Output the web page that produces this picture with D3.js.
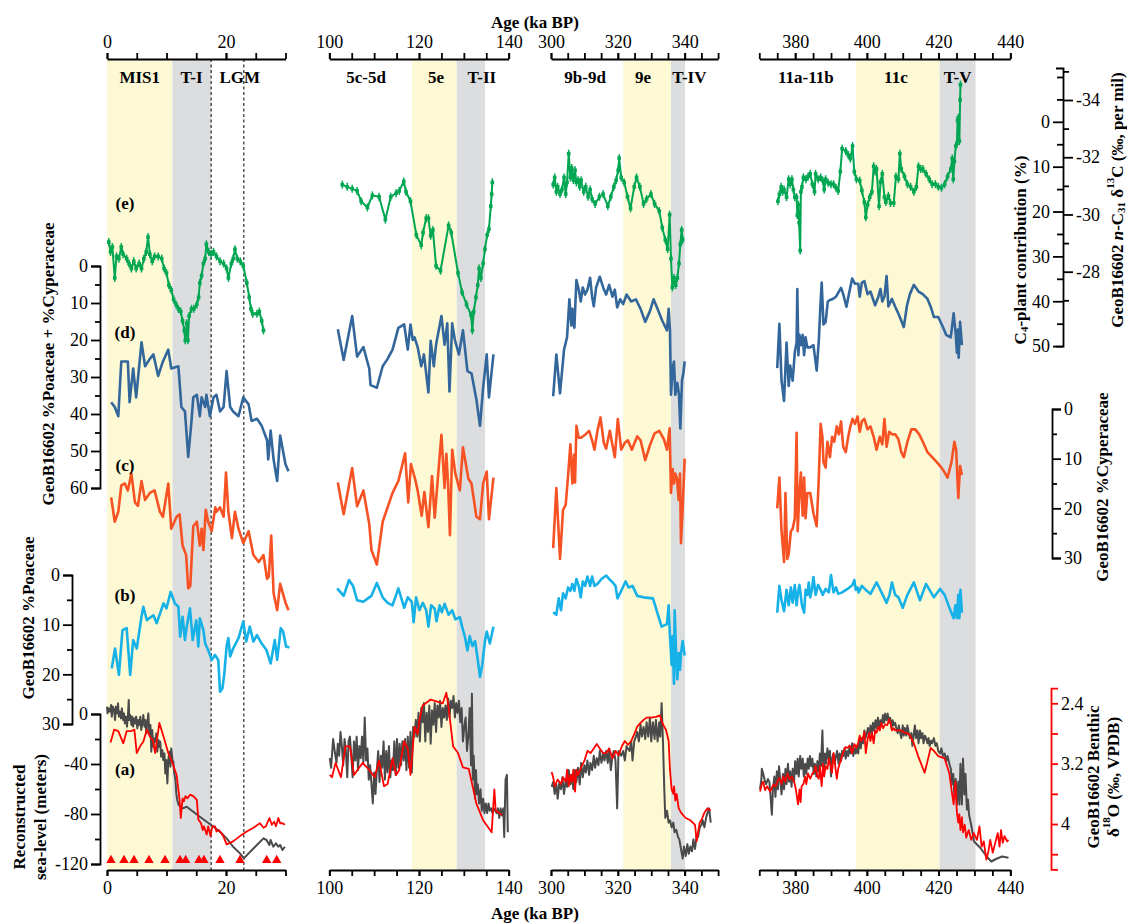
<!DOCTYPE html>
<html>
<head>
<meta charset="utf-8">
<script src="https://cdn.jsdelivr.net/npm/d3@7"></script>
<style>
  body { margin: 0; background: #fff; }
  svg text { font-family: "Liberation Serif", "Times New Roman", serif; fill: #000; }
</style>
</head>
<body>
<svg id="chart" width="1127" height="924"></svg>
<script>
// ---- data (age in ka BP, value in axis units) ----

// x panels and their tick labels
const panelDomains = [[0, 30], [100, 140], [300, 350], [370, 440]];
const panelLabels = [[0, 20], [100, 120, 140], [300, 320, 340], [380, 400, 420, 440]];

// shaded intervals
const yellowBands = [[0, 11], [118.4, 128.4], [321.6, 335.9], [397, 420.3]];
const greyBands = [[11, 17.5], [128.4, 134.7], [335.9, 340.1], [420.3, 430.3]];
const dashedAges = [17.5, 23];
const bandNames = ["MIS1", "T-I", "LGM", "5c-5d", "5e", "T-II", "9b-9d", "9e", "T-IV", "11a-11b", "11c", "T-V"];
const bandNameAges = [5.5, 14.2, 22.3, 108.2, 123.8, 134.0, 310.2, 327.5, 341.4, 383.0, 408.1, 425.3];

// (e) C4-plant contribution (%)
const c4P1 = [[0.3,26.8],[0.6,29.0],[0.9,27.9],[1.3,34.8],[1.6,30.0],[2.0,30.5],[2.4,27.9],[2.7,29.5],[3.3,30.5],[3.7,31.6],[4.1,32.7],[4.5,31.1],[4.9,32.7],[5.4,31.6],[5.8,32.7],[6.2,30.5],[6.6,29.0],[6.9,25.7],[7.2,29.5],[7.6,31.1],[8.0,30.0],[8.6,30.0],[9.2,30.5],[9.6,32.7],[10.0,33.7],[10.4,36.4],[10.8,37.5],[11.2,39.6],[11.6,40.7],[12.0,41.7],[12.4,42.3],[12.7,44.4],[13.0,46.5],[13.15,48.7],[13.4,44.9],[13.6,48.7],[13.8,43.3],[14.2,41.7],[14.6,41.7],[15.1,40.7],[15.4,39.1],[15.6,35.9],[15.9,34.3],[16.2,31.6],[16.5,30.5],[16.7,27.3],[17.1,29.0],[17.5,29.5],[17.9,29.0],[18.4,30.0],[19.0,31.1],[19.6,31.6],[20.1,32.7],[20.4,34.8],[20.9,31.6],[21.2,30.5],[21.5,28.4],[21.9,30.5],[22.4,31.1],[22.9,32.1],[23.5,35.9],[23.9,39.1],[24.2,41.7],[24.5,42.8],[25.2,42.8],[25.6,42.3],[26.0,44.4],[26.3,46.5]];
const c4P2 = [[102.9,14.0],[104.0,14.5],[105.1,14.9],[106.2,15.4],[107.1,17.7],[108.5,19.1],[109.6,16.4],[111.1,16.7],[112.5,21.8],[113.7,16.7],[114.9,15.9],[115.6,15.4],[116.6,13.3],[117.1,15.6],[118.1,17.7],[119.4,25.2],[120.5,27.5],[120.9,24.7],[121.6,21.5],[122.1,21.5],[122.6,25.4],[123.1,24.1],[123.8,32.1],[124.8,33.2],[126.6,23.1],[127.2,24.7],[128.7,33.7],[129.6,38.0],[130.6,40.7],[131.6,43.1],[131.9,46.5],[132.2,42.3],[132.7,39.1],[133.1,36.4],[133.4,32.7],[133.8,34.8],[134.3,31.6],[134.7,28.4],[135.2,25.2],[135.6,23.9],[136.0,18.8],[136.2,16.1],[136.35,13.5]];
const c4P3 = [[300.65,14.0],[301.1,12.4],[301.6,15.6],[302.0,14.5],[302.7,16.1],[303.3,15.1],[303.9,12.4],[304.4,16.1],[304.8,13.5],[305.3,7.1],[305.8,12.4],[306.2,10.3],[306.7,13.0],[307.2,10.8],[307.6,13.5],[308.1,13.0],[308.6,14.5],[309.0,13.0],[309.8,15.6],[310.4,14.5],[311.1,16.7],[311.7,15.1],[312.3,17.2],[313.2,18.3],[314.5,16.7],[315.6,16.1],[317.0,18.8],[317.9,16.7],[318.8,14.5],[319.5,13.0],[320.1,10.8],[320.4,8.1],[321.0,12.4],[321.9,13.5],[322.9,16.7],[323.8,19.3],[324.9,14.5],[325.6,12.4],[326.6,14.5],[327.7,18.3],[328.6,17.2],[329.9,16.1],[331.0,18.3],[332.4,19.9],[333.3,23.6],[334.2,26.3],[334.9,28.4],[335.5,20.7],[335.9,30.5],[336.3,36.9],[336.8,34.8],[337.3,36.4],[337.8,34.8],[338.3,31.6],[338.7,27.3],[339.1,24.1],[339.4,26.3]];
const c4P4 = [[375.2,17.7],[375.6,16.2],[376.1,14.5],[376.5,15.6],[376.9,15.1],[377.6,16.8],[378.2,12.8],[378.6,13.9],[379.1,12.8],[379.5,15.1],[379.9,16.8],[380.4,16.8],[380.6,20.8],[380.9,18.5],[381.1,22.5],[381.4,28.7],[381.6,15.6],[381.9,14.5],[382.3,12.4],[383.0,12.8],[383.6,12.2],[384.2,11.6],[384.8,13.9],[385.4,15.6],[385.7,11.6],[386.4,12.8],[387.1,12.4],[387.7,13.1],[388.1,15.1],[388.5,12.8],[389.2,13.6],[390.0,13.9],[390.7,13.9],[391.4,14.7],[392.0,15.4],[392.6,11.1],[393.1,6.0],[394.1,6.5],[394.8,7.4],[395.4,8.2],[396.0,5.4],[396.5,11.1],[397.1,12.8],[398.0,13.1],[398.6,15.3],[399.3,17.9],[399.7,21.3],[400.2,18.5],[400.8,16.8],[401.4,15.6],[401.9,9.9],[402.3,11.1],[402.7,10.5],[403.4,18.8],[403.8,13.4],[404.3,11.6],[404.9,16.8],[405.3,17.9],[406.0,16.5],[406.6,18.1],[407.5,18.1],[408.1,12.2],[408.8,12.8],[409.2,7.1],[409.6,10.5],[410.5,12.2],[411.3,13.9],[412.2,14.5],[413.1,15.6],[413.8,14.5],[414.4,9.9],[415.0,10.5],[415.6,10.5],[416.5,11.6],[417.4,12.8],[418.2,13.9],[419.1,13.9],[419.9,14.5],[420.8,14.7],[421.7,13.9],[422.5,12.2],[423.4,10.5],[423.8,8.2],[424.1,12.8],[424.4,8.8],[424.8,5.4],[425.1,4.8],[425.3,-0.3],[425.5,-0.9],[425.8,4.3],[426.0,-4.9],[426.1,-8.3]];

// (d) %Poaceae + %Cyperaceae
const pcP1 = [[0.7,36.8],[1.3,38.1],[1.9,40.6],[2.4,25.8],[3.0,25.8],[3.5,25.8],[3.8,36.8],[4.4,27.7],[4.9,35.5],[5.8,20.6],[6.4,27.1],[7.2,25.1],[7.8,23.9],[8.6,29.7],[9.4,25.8],[10.3,22.6],[10.8,27.7],[12.0,27.1],[12.5,38.1],[13.1,39.3],[13.65,51.6],[14.2,41.9],[14.5,35.5],[15.1,34.8],[15.6,40.6],[15.9,35.5],[16.5,38.1],[16.7,34.8],[17.3,40.6],[17.9,35.5],[18.4,34.8],[19.0,39.3],[19.6,38.1],[20.1,28.4],[20.7,38.1],[21.2,39.3],[22.1,40.6],[22.9,35.5],[23.8,37.4],[24.3,41.9],[25.2,41.3],[26.0,43.2],[26.9,47.1],[27.1,52.3],[27.5,44.5],[28.0,52.3],[28.6,58.1],[29.1,45.8],[30.0,53.6],[30.5,55.5]];
const pcP2 = [[101.9,17.1],[103.2,25.4],[105.1,13.5],[106.2,24.5],[107.6,21.9],[108.9,27.7],[109.2,32.2],[110.6,32.9],[111.9,27.1],[113.0,25.1],[114.1,22.6],[115.4,16.7],[116.7,15.8],[117.5,22.6],[118.1,15.8],[118.6,20.0],[119.0,19.3],[119.7,21.9],[120.5,27.1],[121.1,23.9],[122.1,34.2],[122.6,20.2],[123.3,27.1],[123.8,21.3],[125.0,13.5],[125.7,21.3],[126.3,15.5],[126.8,33.9],[127.4,15.5],[128.0,20.0],[128.9,23.9],[129.8,17.4],[130.8,28.4],[131.7,29.0],[132.8,36.1],[133.6,43.2],[134.3,32.9],[135.1,23.9],[135.6,35.5],[136.6,23.9]];
const pcP3 = [[300.65,35.2],[301.6,23.9],[302.7,34.4],[303.9,22.6],[304.8,19.3],[305.5,9.0],[306.1,16.1],[306.4,11.6],[307.0,16.7],[307.6,3.8],[308.3,6.4],[308.9,9.6],[309.5,5.8],[310.2,7.7],[310.9,6.4],[311.7,3.2],[312.3,8.3],[312.8,10.9],[313.5,5.8],[314.6,2.9],[315.6,5.8],[316.5,7.7],[317.4,5.1],[318.4,8.3],[319.1,6.4],[319.8,11.2],[320.7,9.0],[321.6,10.3],[322.6,7.7],[324.0,9.6],[325.4,9.0],[326.8,11.6],[328.2,15.1],[329.6,12.2],[330.7,9.0],[331.9,11.6],[333.3,14.8],[334.7,17.4],[335.2,11.6],[335.6,17.4],[335.9,34.8],[336.4,27.7],[336.8,25.8],[337.2,34.8],[337.8,31.6],[338.3,34.8],[338.7,43.9],[339.2,30.9],[339.6,29.0],[340.0,25.8]];
const pcP4 = [[375.0,27.6],[375.6,15.6],[376.2,31.0],[376.9,36.5],[377.6,20.7],[378.2,32.4],[378.6,26.9],[379.3,31.0],[379.9,23.4],[380.4,20.7],[380.6,6.2],[380.9,24.1],[381.2,18.6],[381.6,21.4],[382.1,18.6],[382.5,24.1],[382.9,19.3],[383.4,22.0],[384.2,22.0],[385.1,21.4],[386.0,28.3],[386.6,20.0],[387.1,9.6],[387.4,4.5],[387.9,15.8],[388.5,15.1],[389.1,9.6],[389.7,9.2],[390.5,8.9],[391.4,8.3],[392.2,6.9],[392.8,5.9],[393.4,7.6],[394.3,11.0],[395.0,7.6],[395.9,3.4],[396.7,4.8],[397.6,4.8],[398.0,8.3],[398.6,4.5],[399.3,4.1],[400.2,7.6],[401.0,6.9],[402.3,10.6],[403.2,8.3],[403.8,6.2],[404.3,9.6],[404.9,8.3],[405.5,2.7],[406.0,10.9],[407.0,8.9],[407.9,11.0],[408.9,13.1],[410.3,16.5],[411.2,10.6],[412.0,7.6],[413.1,5.1],[414.4,6.9],[415.6,7.6],[416.9,8.9],[417.8,11.0],[418.7,13.8],[419.9,13.8],[421.2,16.5],[422.1,18.6],[423.4,19.3],[424.2,12.8],[424.8,18.6],[425.1,23.4],[425.4,17.2],[425.6,24.8],[426.0,15.1],[426.5,21.4]];

// (c) %Cyperaceae
const cyP1 = [[0.7,17.8],[1.3,22.7],[1.9,20.7],[2.4,15.4],[3.0,15.0],[3.5,16.4],[4.1,13.0],[4.7,18.8],[5.2,19.5],[5.8,14.5],[6.4,18.3],[7.2,16.9],[8.0,16.4],[8.9,20.7],[9.4,21.7],[10.3,15.0],[10.8,24.1],[11.7,21.7],[12.2,21.2],[12.7,27.5],[13.3,29.4],[13.65,36.1],[14.0,35.6],[14.5,23.6],[15.1,22.7],[15.6,27.5],[15.9,24.1],[16.2,28.4],[16.6,20.3],[17.0,22.7],[17.6,24.6],[18.2,19.8],[18.4,20.7],[19.0,19.8],[19.6,21.7],[20.0,12.8],[20.4,20.7],[21.0,26.0],[21.5,20.7],[22.1,24.1],[22.9,27.0],[23.8,24.6],[24.6,29.4],[25.5,30.8],[26.3,29.4],[26.9,34.2],[27.2,33.7],[27.6,25.5],[28.0,37.1],[28.6,40.5],[29.1,35.2],[30.0,39.0],[30.5,40.5]];
const cyP2 = [[101.9,14.8],[103.2,21.2],[105.1,11.9],[106.2,19.6],[107.6,16.4],[108.9,23.1],[109.4,28.4],[110.6,31.3],[111.9,22.7],[113.0,19.8],[114.1,16.9],[115.4,14.5],[116.9,8.9],[117.6,18.8],[118.2,11.1],[119.1,14.0],[119.7,16.4],[120.6,21.5],[121.2,16.7],[122.1,23.8],[122.9,13.5],[123.5,21.9],[124.2,14.0],[125.0,5.2],[125.7,15.9],[126.1,9.0],[126.5,15.4],[126.9,25.4],[127.4,8.2],[128.1,13.0],[129.1,16.4],[129.8,7.7],[131.0,14.0],[131.7,15.0],[132.8,21.7],[133.6,22.2],[134.3,15.0],[135.1,12.6],[135.6,22.2],[136.6,13.8]];
const cyP3 = [[300.65,28.0],[301.6,15.9],[302.7,30.2],[303.6,20.3],[304.4,19.3],[305.1,13.5],[305.8,7.1],[306.4,15.0],[306.9,9.2],[307.2,14.8],[307.6,3.4],[308.3,5.8],[309.0,5.8],[310.0,5.3],[311.4,4.4],[312.3,6.3],[313.0,8.2],[313.9,4.4],[314.8,1.7],[315.8,6.8],[316.5,8.0],[317.6,4.4],[318.4,7.3],[319.1,9.7],[320.0,2.0],[321.0,8.2],[322.1,6.8],[323.0,6.3],[324.2,8.2],[325.8,5.5],[326.8,6.3],[328.2,10.3],[329.6,7.3],[331.0,4.9],[332.4,4.4],[333.8,6.1],[334.7,8.2],[335.5,3.9],[335.9,16.9],[336.4,12.1],[336.8,15.0],[337.2,13.0],[337.7,14.0],[338.2,18.3],[338.6,13.0],[338.9,27.0],[339.4,19.8],[340.0,10.0]];
const cyP4 = [[375.0,20.0],[375.6,13.8],[376.2,24.6],[376.9,30.8],[377.3,16.9],[377.8,30.2],[378.2,29.2],[378.8,24.6],[379.3,24.1],[379.9,22.0],[380.4,4.8],[380.7,24.6],[381.2,16.9],[381.6,12.8],[382.1,21.5],[382.5,13.8],[382.9,22.0],[383.4,16.9],[384.2,16.9],[385.1,21.0],[386.0,23.6],[386.6,13.8],[387.1,3.0],[387.6,5.6],[387.9,10.7],[388.5,11.8],[389.0,6.6],[389.7,9.7],[390.3,5.6],[390.9,6.6],[391.6,3.5],[392.2,5.1],[392.8,2.5],[393.4,7.6],[394.1,8.7],[394.8,5.6],[395.4,3.5],[396.0,2.0],[396.7,3.0],[397.4,1.5],[398.0,4.6],[398.6,2.5],[399.3,2.0],[400.2,4.1],[401.0,3.5],[401.9,5.6],[402.7,8.2],[403.6,5.6],[404.3,7.1],[404.9,2.0],[405.5,7.6],[406.2,4.6],[407.0,5.1],[407.9,5.1],[408.8,6.1],[409.6,8.7],[410.3,9.7],[411.3,6.6],[412.4,4.1],[413.5,4.1],[414.6,5.1],[415.6,6.6],[416.9,8.7],[418.2,9.7],[419.5,10.7],[420.8,11.8],[421.7,12.8],[422.5,13.8],[423.6,10.7],[424.4,6.6],[424.9,8.2],[425.5,17.9],[426.0,11.5],[426.5,13.3]];

// (b) %Poaceae
const poP1 = [[0.8,18.8],[1.35,14.8],[2.0,20.1],[2.6,11.1],[3.3,10.7],[3.9,20.1],[4.4,13.1],[5.0,14.8],[5.8,8.4],[6.1,6.4],[6.7,9.1],[7.1,8.7],[7.8,8.1],[8.35,9.7],[9.5,5.7],[10.0,6.7],[10.7,3.4],[11.4,5.7],[12.0,6.4],[12.3,12.4],[12.7,8.4],[13.1,13.1],[13.4,10.4],[13.95,6.7],[14.4,13.1],[15.0,9.1],[15.35,14.4],[15.6,8.7],[16.2,11.1],[16.5,13.8],[17.0,15.1],[17.6,17.1],[18.15,16.1],[18.7,17.1],[19.0,23.5],[19.4,22.8],[19.7,20.1],[20.1,14.4],[20.4,12.7],[20.7,16.4],[21.2,14.8],[22.1,12.7],[22.9,9.4],[23.4,13.4],[24.0,10.4],[24.6,13.4],[25.2,12.1],[26.0,13.8],[26.8,15.1],[27.5,17.8],[28.2,13.1],[28.6,17.1],[29.2,10.7],[29.6,11.4],[30.1,14.4],[30.65,14.6]];
const poP2 = [[101.75,2.7],[103.2,4.2],[104.4,1.0],[105.3,2.2],[106.2,5.1],[107.6,5.4],[108.9,4.5],[109.4,4.2],[110.6,1.6],[111.9,4.5],[113.0,5.6],[114.1,6.1],[115.4,2.7],[116.7,6.6],[117.5,4.5],[118.4,5.4],[118.8,9.5],[119.35,4.5],[120.1,7.1],[120.85,5.6],[121.6,7.1],[122.1,10.4],[122.7,6.1],[123.5,6.8],[123.9,9.3],[124.6,6.1],[125.1,7.5],[125.7,5.8],[126.6,8.0],[127.4,7.1],[128.1,8.9],[129.1,8.5],[129.6,10.4],[130.2,12.3],[130.8,15.2],[131.3,12.3],[131.9,14.3],[132.5,13.3],[133.05,16.7],[133.6,20.5],[134.1,18.1],[134.7,13.3],[135.1,11.4],[135.8,13.8],[136.6,10.4]];
const poP3 = [[300.65,7.5],[301.6,8.0],[302.3,4.7],[303.0,7.1],[303.6,3.7],[304.4,4.7],[305.1,2.5],[305.8,3.2],[306.4,1.8],[307.0,3.2],[307.6,0.8],[308.3,2.2],[308.9,4.5],[309.5,1.3],[310.2,2.2],[310.9,0.3],[311.7,2.2],[312.3,0.3],[313.0,2.2],[313.9,1.8],[315.1,0.8],[316.5,0.1],[317.4,0.8],[318.6,1.6],[319.3,2.2],[319.9,4.7],[321.0,3.2],[322.3,1.3],[323.2,2.5],[324.4,2.2],[325.8,4.2],[327.7,4.5],[330.5,4.7],[331.6,7.1],[333.1,10.4],[334.7,9.9],[335.2,6.1],[335.6,12.3],[336.1,18.1],[336.4,12.3],[336.8,21.9],[337.0,7.1],[337.4,15.2],[337.8,21.0],[338.2,15.7],[338.6,19.1],[338.9,15.7],[339.4,13.3],[340.0,16.2]];
const poP4 = [[375.0,7.6],[375.6,2.2],[376.2,5.1],[376.9,7.3],[377.6,3.0],[378.2,6.1],[378.8,2.5],[379.3,5.6],[379.9,2.0],[380.4,6.1],[380.8,3.5],[381.2,2.0],[381.9,6.1],[382.5,7.6],[382.9,3.0],[383.4,4.0],[383.8,1.5],[384.2,4.5],[384.7,2.8],[385.1,0.4],[385.7,4.0],[386.4,2.0],[387.1,3.0],[387.7,4.0],[388.5,2.8],[389.4,3.5],[390.0,0.0],[390.7,3.5],[391.4,2.5],[392.0,3.8],[393.1,3.5],[394.6,2.8],[396.0,2.0],[396.5,1.0],[396.9,3.0],[397.4,2.5],[397.7,3.5],[398.6,2.2],[399.7,3.0],[401.0,3.8],[402.7,1.5],[404.3,3.8],[405.5,5.6],[406.3,4.0],[407.0,1.5],[407.9,4.0],[408.8,4.5],[410.0,6.6],[411.3,4.0],[413.1,1.5],[414.8,5.1],[416.5,1.8],[418.7,4.5],[420.4,2.8],[421.7,4.0],[423.0,6.6],[424.2,8.7],[424.7,6.1],[425.1,8.7],[425.5,4.0],[425.8,8.7],[426.1,3.0],[426.5,7.6]];

// (a) reconstructed sea level (m)
const seaP1 = [[0.0,5.9],[0.1,0.5],[0.3,4.5],[0.5,1.9],[0.7,7.2],[0.8,-2.1],[1.0,5.9],[1.2,3.2],[1.35,-4.8],[1.5,5.9],[1.7,0.5],[1.85,8.5],[2.0,-2.1],[2.2,1.9],[2.35,-3.5],[2.5,4.5],[2.7,-4.8],[2.85,0.5],[3.0,-7.5],[3.2,-2.1],[3.35,-10.1],[3.5,-3.5],[3.65,11.2],[3.75,-4.8],[3.9,-0.8],[4.1,-8.8],[4.25,-2.1],[4.4,-10.1],[4.6,-3.5],[4.75,-7.5],[4.9,-2.1],[5.1,-11.5],[5.25,-4.8],[5.45,-8.8],[5.6,-2.1],[5.75,-12.8],[5.95,-7.5],[6.1,-0.8],[6.3,-10.1],[6.45,-4.8],[6.6,-15.5],[6.8,-6.1],[6.95,0.5],[7.1,-15.5],[7.3,-8.8],[7.45,-30.1],[7.6,-12.8],[7.8,-26.2],[7.95,-19.5],[8.1,-22.1],[8.3,-15.5],[8.45,-30.1],[8.65,-20.8],[8.8,-26.2],[8.95,-22.1],[9.1,-34.2],[9.3,-28.8],[9.45,-36.8],[9.65,-31.5],[9.8,-47.5],[9.95,-36.8],[10.15,-55.5],[10.3,-36.8],[10.5,-30.1],[10.65,-42.2],[10.8,-27.5],[11.0,-36.8],[11.15,-38.2],[11.3,-47.5],[11.5,-52.8],[11.65,-63.5],[11.8,-68.8],[12.05,-72.8],[12.7,-75.5],[13.4,-74.2],[14.5,-78.2],[15.6,-82.2],[16.75,-86.2],[17.9,-90.2],[19.0,-94.2],[20.1,-99.5],[21.2,-106.2],[22.35,-111.5],[23.0,-115.5],[23.8,-111.5],[24.9,-106.2],[26.3,-99.5],[26.8,-100.8],[27.3,-104.8],[27.5,-100.8],[27.95,-106.2],[28.4,-103.5],[28.8,-106.2],[29.1,-104.8],[29.5,-108.8],[29.9,-106.2]];
const seaP2 = [[100.1,-35.3],[100.4,-43.0],[100.85,-20.0],[101.2,-29.6],[101.6,-39.1],[101.9,-23.8],[102.2,-33.4],[102.5,-14.3],[102.8,-25.7],[103.1,-41.0],[103.4,-20.0],[103.7,-29.6],[104.0,-50.6],[104.3,-21.9],[104.6,-18.1],[104.9,-33.4],[105.2,-50.6],[105.5,-21.9],[105.8,-37.2],[106.1,-18.1],[106.4,-44.9],[106.7,-25.7],[107.0,-35.3],[107.3,-18.1],[107.6,-39.1],[107.9,-2.8],[108.2,-37.2],[108.5,-27.6],[108.8,-52.5],[109.1,-41.0],[109.4,-56.3],[109.7,-71.6],[110.0,-46.8],[110.3,-64.0],[110.6,-44.9],[110.9,-29.6],[111.2,-54.4],[111.5,-33.4],[111.8,-43.0],[112.1,-21.9],[112.4,-52.5],[112.7,-29.6],[113.0,-46.8],[113.3,-25.7],[113.6,-50.6],[113.9,-37.2],[114.2,-44.9],[114.5,-21.9],[114.8,-48.7],[115.1,-20.0],[115.4,-43.0],[115.7,-23.8],[116.0,-41.0],[116.3,-21.9],[116.6,-37.2],[116.9,-20.0],[117.2,-44.9],[117.5,-18.1],[117.8,-43.0],[118.1,-14.3],[118.4,-46.8],[118.7,-10.4],[119.0,-18.1],[119.3,-4.7],[119.6,-18.1],[119.9,1.0],[120.2,-21.9],[120.5,4.8],[120.8,-6.6],[121.1,8.7],[121.4,-21.9],[121.7,1.0],[122.0,-14.3],[122.3,6.8],[122.6,-23.8],[122.9,2.9],[123.2,-8.5],[123.5,8.7],[123.8,-14.3],[124.1,6.8],[124.4,-2.8],[124.7,10.6],[125.0,-10.4],[125.3,4.8],[125.6,-2.8],[125.9,6.8],[126.2,-4.7],[126.5,12.5],[126.8,-2.8],[127.1,10.6],[127.4,4.8],[127.7,14.4],[128.0,-2.8],[128.3,8.7],[128.6,1.0],[128.9,10.6],[129.2,-6.6],[129.5,4.8],[129.8,-21.9],[130.1,-10.4],[130.4,-2.8],[130.7,-29.6],[131.0,-18.1],[131.3,4.8],[131.6,-41.0],[131.8,16.3],[132.0,-52.5],[132.2,-33.4],[132.5,-67.8],[132.7,-44.9],[132.9,-64.0],[133.1,-56.3],[133.4,-71.6],[133.7,-60.2],[134.0,-77.4],[134.3,-67.8],[134.6,-79.3],[134.9,-71.6],[135.2,-79.3],[135.5,-71.6],[135.8,-77.4],[136.1,-75.5],[136.4,-79.3],[136.7,-75.5],[137.0,-77.4],[137.3,-79.3],[137.6,-75.5],[137.9,-83.1],[138.2,-75.5],[138.5,-81.2],[138.8,-75.5],[139.0,-98.4],[139.3,-52.5],[139.6,-48.7],[139.8,-94.6]];
const seaP3 = [[300.2,-58.3],[300.65,-54.4],[301.1,-64.0],[301.6,-56.3],[302.0,-67.8],[302.5,-54.4],[303.0,-60.2],[303.4,-50.6],[303.9,-64.0],[304.4,-52.5],[304.8,-58.3],[305.3,-44.9],[305.8,-56.3],[306.2,-48.7],[306.7,-60.2],[307.2,-44.9],[307.6,-54.4],[308.1,-43.0],[308.6,-56.3],[309.0,-39.1],[309.5,-50.6],[310.0,-41.0],[310.4,-46.8],[310.9,-37.2],[311.4,-48.7],[311.8,-39.1],[312.3,-44.9],[312.8,-33.4],[313.2,-43.0],[313.7,-35.3],[314.2,-41.0],[314.6,-29.6],[315.1,-39.1],[315.6,-31.5],[316.0,-37.2],[316.5,-29.6],[317.0,-39.1],[317.4,-27.7],[317.9,-44.9],[318.4,-33.4],[318.8,-29.6],[319.3,-37.2],[319.8,-75.5],[320.2,-29.6],[321.0,-33.4],[321.6,-29.6],[322.1,-37.2],[322.6,-25.7],[323.0,-27.7],[323.5,-29.6],[324.0,-21.9],[324.4,-37.2],[324.9,-21.9],[325.4,-18.1],[325.8,-14.3],[326.3,-21.9],[326.8,-8.5],[327.2,-18.1],[327.7,-10.4],[328.2,-20.0],[328.6,-6.6],[329.1,-18.1],[329.6,-2.8],[330.0,-21.9],[330.5,-6.6],[331.0,-20.0],[331.4,-4.7],[331.9,-21.9],[332.4,-6.6],[332.7,-18.1],[333.1,8.7],[333.5,-21.9],[333.9,-60.2],[334.2,-83.1],[334.7,-77.4],[335.2,-86.9],[335.6,-85.0],[336.1,-90.7],[336.6,-86.9],[337.0,-94.6],[337.5,-92.7],[338.0,-98.4],[338.4,-100.3],[338.9,-108.0],[339.4,-115.6],[339.8,-106.0],[340.3,-113.7],[340.8,-104.1],[341.2,-111.8],[341.7,-106.0],[342.2,-109.9],[342.6,-100.3],[343.1,-108.0],[343.6,-96.5],[344.0,-98.4],[344.5,-90.7],[345.0,-88.8],[345.4,-85.0],[345.9,-90.7],[346.4,-83.1],[346.8,-79.3],[347.3,-75.5],[347.8,-86.9]];
const seaP4 = [[370.2,-60.2],[370.6,-52.0],[370.7,-43.8],[371.1,-47.9],[371.6,-54.1],[371.9,-56.1],[372.4,-52.0],[372.8,-54.1],[373.1,-64.3],[373.5,-80.6],[373.8,-60.2],[374.2,-50.0],[374.5,-66.3],[374.9,-45.9],[375.2,-60.2],[375.5,-41.8],[375.9,-54.1],[376.2,-64.3],[376.6,-47.9],[376.9,-60.2],[377.3,-43.8],[377.6,-56.1],[378.0,-39.8],[378.3,-54.1],[378.6,-45.9],[379.0,-58.1],[379.3,-43.8],[379.7,-54.1],[380.0,-37.7],[380.4,-47.9],[380.7,-35.7],[381.0,-50.0],[381.4,-33.6],[381.7,-43.8],[382.1,-35.7],[382.4,-50.0],[382.8,-39.8],[383.1,-47.9],[383.5,-35.7],[383.8,-43.8],[384.1,-33.6],[384.5,-41.8],[384.8,-35.7],[385.2,-47.9],[385.5,-39.8],[385.9,-50.0],[386.2,-37.7],[386.6,-45.9],[386.9,-31.6],[387.2,-41.8],[387.6,-13.2],[387.9,-45.9],[388.3,-31.6],[388.6,-39.8],[389.0,-27.5],[389.3,-35.7],[389.7,-29.5],[390.0,-50.0],[390.3,-35.7],[390.7,-31.6],[391.0,-39.8],[391.4,-33.6],[391.7,-29.5],[392.1,-39.8],[392.4,-31.6],[392.8,-37.7],[393.1,-29.5],[393.4,-33.6],[393.8,-27.5],[394.1,-35.7],[394.5,-29.5],[394.8,-33.6],[395.2,-25.5],[395.5,-31.6],[395.9,-23.4],[396.2,-33.6],[396.5,-27.5],[396.9,-31.6],[397.2,-25.5],[397.6,-31.6],[397.9,-21.4],[398.3,-27.5],[398.6,-19.3],[399.0,-23.4],[399.3,-13.2],[399.6,-19.3],[400.0,-15.3],[400.3,-11.2],[400.7,-17.3],[401.0,-9.1],[401.4,-15.3],[401.7,-7.1],[402.0,-13.2],[402.4,-5.0],[402.7,-11.2],[403.1,-3.0],[403.4,-11.2],[403.8,-5.0],[404.1,-9.1],[404.5,-0.9],[404.8,-7.1],[405.1,0.3],[405.5,-5.0],[405.8,0.3],[406.2,-7.1],[406.5,-3.0],[406.9,-11.2],[407.2,-5.0],[407.5,-9.1],[407.9,-7.1],[408.2,-11.2],[408.6,-15.3],[408.9,-9.1],[409.3,-15.3],[409.6,-19.3],[410.0,-9.1],[410.3,-17.3],[410.6,-11.2],[411.0,-17.3],[411.3,-9.1],[411.7,-15.3],[412.0,-19.3],[412.4,-15.3],[412.7,-25.5],[413.1,-15.3],[413.4,-9.1],[413.7,-19.3],[414.1,-13.2],[414.4,-23.4],[414.8,-13.2],[415.1,-19.3],[415.5,-15.3],[415.8,-23.4],[416.2,-17.3],[416.5,-19.3],[416.9,-23.4],[417.2,-19.3],[417.5,-25.5],[417.9,-21.4],[418.2,-23.4],[418.7,-19.3],[419.1,-25.5],[419.5,-23.4],[419.9,-29.5],[420.4,-31.6],[420.8,-27.5],[421.2,-33.6],[421.7,-31.6],[422.1,-37.7],[422.5,-33.6],[423.0,-39.8],[423.4,-43.8],[423.8,-56.1],[424.1,-47.9],[424.4,-64.3],[424.8,-52.0],[425.1,-72.4],[425.5,-54.1],[425.8,-72.4],[426.1,-39.8],[426.5,-72.4],[426.8,-35.7],[427.2,-64.3],[427.5,-47.9],[427.9,-76.5],[428.2,-68.4],[428.5,-80.6],[429.1,-88.8],[429.9,-102],[431.6,-107],[433.4,-114],[434.7,-118],[436.0,-116],[437.7,-114],[439.5,-115]];

// (a) benthic d18O (permil VPDB)
const d18P1 = [[0.6,2.92],[1.2,2.75],[1.9,2.77],[2.75,2.93],[3.3,2.77],[4.0,2.77],[4.6,2.75],[5.0,3.06],[5.55,2.97],[6.1,2.91],[6.7,2.75],[7.2,2.84],[7.7,2.89],[8.1,3.06],[8.35,2.91],[8.8,2.66],[9.5,2.84],[10.3,3.06],[10.9,3.17],[11.7,3.35],[12.2,3.68],[12.4,3.92],[12.7,3.66],[12.9,3.70],[13.2,3.63],[13.5,3.66],[14.0,3.61],[14.5,3.63],[15.1,3.68],[15.35,3.94],[15.8,3.99],[16.1,4.08],[16.3,4.03],[16.75,4.14],[17.0,4.03],[17.4,4.16],[17.7,4.03],[18.15,4.03],[18.4,4.10],[18.8,4.08],[19.55,4.16],[20.1,4.27],[21.2,4.23],[22.35,4.16],[23.5,4.10],[24.6,4.05],[25.7,3.99],[26.3,4.05],[26.7,4.03],[27.3,3.92],[27.7,4.01],[28.1,3.97],[28.4,4.03],[28.8,3.92],[29.1,3.99],[29.5,3.99],[29.9,4.01]];
const d18P2 = [[100.1,3.35],[100.6,3.38],[101.4,3.19],[102.6,3.38],[103.6,2.97],[104.6,2.97],[105.5,3.35],[107.4,3.19],[108.9,3.28],[110.1,3.38],[111.1,3.16],[112.2,3.50],[113.0,3.47],[114.1,3.13],[114.9,3.35],[115.6,3.28],[116.7,2.90],[117.5,3.00],[118.1,3.35],[119.0,2.71],[119.7,2.81],[120.1,2.62],[120.8,2.43],[122.6,2.35],[125.3,2.40],[126.1,2.26],[126.6,2.46],[127.6,2.97],[128.7,3.06],[129.8,3.25],[131.1,3.27],[132.1,3.54],[132.8,3.73],[134.3,3.95],[136.2,4.11],[136.8,3.54],[137.1,3.82],[138.5,3.88]];
const d18P3 = [[300.2,3.31],[300.65,3.38],[301.1,3.50],[302.0,3.41],[303.0,3.47],[303.6,3.38],[304.4,3.44],[304.8,3.28],[305.3,3.50],[305.8,3.35],[306.2,3.44],[306.7,3.28],[307.2,3.57],[307.6,3.28],[308.1,3.35],[309.0,3.25],[310.0,3.16],[310.9,3.03],[311.8,3.06],[312.8,3.00],[313.7,2.94],[314.6,3.00],[315.6,3.06],[316.5,3.06],[317.4,3.00],[318.4,3.13],[319.3,3.03],[320.2,3.09],[321.2,2.97],[322.1,2.90],[323.0,2.95],[324.0,2.90],[324.9,2.81],[325.8,2.71],[326.8,2.66],[327.7,2.62],[328.6,2.59],[330.0,2.59],[331.4,2.58],[332.6,2.56],[333.5,2.68],[334.4,2.75],[335.2,2.90],[335.6,3.28],[336.1,3.54],[336.6,3.60],[336.8,3.50],[337.2,3.69],[337.6,3.60],[338.2,3.79],[338.9,3.85],[340.3,3.92],[341.7,3.95],[343.1,4.01],[343.6,4.23],[344.0,4.11],[344.5,3.98],[345.0,3.95],[345.9,3.85],[346.8,3.79],[347.8,3.82]];
const d18P4 = [[370.2,3.57],[370.7,3.47],[371.1,3.44],[371.6,3.55],[372.2,3.50],[373.0,3.57],[373.9,3.48],[374.5,3.50],[375.0,3.44],[375.6,3.39],[376.2,3.47],[376.7,3.37],[377.3,3.44],[377.8,3.33],[378.5,3.41],[379.1,3.37],[379.7,3.44],[380.2,3.54],[380.8,3.74],[381.2,3.54],[381.5,3.71],[381.8,3.50],[382.3,3.47],[382.8,3.37],[383.1,3.47],[383.6,3.33],[384.2,3.40],[384.8,3.33],[385.4,3.30],[385.7,3.23],[386.2,3.37],[386.6,3.40],[386.9,3.23],[387.4,3.50],[387.8,3.20],[388.1,3.37],[388.5,3.23],[389.0,3.27],[389.4,3.13],[389.8,3.21],[390.3,3.32],[390.7,3.06],[391.1,3.20],[391.6,3.40],[392.0,3.27],[392.4,3.20],[392.8,3.15],[393.3,3.06],[394.0,2.98],[394.6,2.99],[395.2,2.96],[395.9,3.06],[396.5,2.94],[397.1,2.99],[397.6,2.92],[398.0,2.83],[398.4,2.90],[398.9,2.86],[399.3,2.78],[399.7,3.06],[400.2,2.88],[400.6,2.79],[401.0,2.90],[401.4,2.79],[401.9,2.93],[402.3,2.76],[402.7,2.79],[403.2,2.71],[403.6,2.76],[404.0,2.66],[404.5,2.73],[405.1,2.68],[405.7,2.69],[406.2,2.61],[406.6,2.66],[407.0,2.76],[407.5,2.73],[407.9,2.76],[408.8,2.76],[409.6,2.76],[410.5,2.79],[411.8,2.81],[413.1,2.93],[414.3,3.10],[416.1,3.32],[416.9,3.17],[417.8,2.99],[418.7,3.03],[419.9,3.10],[421.7,3.13],[423.0,3.33],[423.8,3.61],[424.2,3.74],[424.7,3.44],[425.1,3.84],[425.5,3.98],[425.8,3.87],[426.1,4.08],[426.5,3.91],[426.8,4.11],[427.3,4.01],[427.7,4.18],[428.4,4.08],[429.1,4.21],[429.8,4.12],[430.7,4.21],[431.4,4.03],[432.0,4.30],[432.6,4.23],[433.3,4.47],[433.9,4.36],[434.4,4.21],[435.1,4.38],[435.8,4.25],[436.5,4.12],[437.0,4.30],[437.4,4.08],[437.9,4.25],[438.4,4.16],[439.1,4.23],[439.5,4.21]];

// dating points (red triangles) in panel 1
const datingAges = [0.67, 2.86, 4.54, 7.06, 9.75, 12.27, 13.22, 15.46, 16.3, 18.99, 22.35, 26.84, 28.52];

// ---- layout ----
const svg = d3.select("#chart");
const xRanges = [[107, 285.5], [329.3, 508.7], [551, 718.1], [759.3, 1010.3]];
const topY = 59, bottomY = 870;
const xs = panelDomains.map((d, i) => d3.scaleLinear().domain(d).range(xRanges[i]));

// y scales
const yC4 = d3.scaleLinear().domain([-12, 50]).range([68, 346.1]);
const yD13 = d3.scaleLinear().domain([-34, -28]).range([100, 271.7]);
const yPC = d3.scaleLinear().domain([0, 60]).range([266, 488]);
const yCy = d3.scaleLinear().domain([0, 30]).range([409, 558]);
const yPo = d3.scaleLinear().domain([0, 30]).range([575, 724]);
const ySea = d3.scaleLinear().domain([0, -120]).range([714, 864]);
const yD18 = d3.scaleLinear().domain([2.2, 4.6]).range([688.2, 869.3]);

const colors = {
  yellow: "#fdf9d4", grey: "#dcdddf", green: "#00a651", blue: "#33679c",
  orange: "#f65223", cyan: "#16b1e6", dark: "#4a4a4a", red: "#ff0000"
};

// Shaded bands
xs.forEach((x, i) => {
  svg.append("rect").attr("x", x(yellowBands[i][0])).attr("y", topY + 1)
    .attr("width", x(yellowBands[i][1]) - x(yellowBands[i][0])).attr("height", bottomY - topY - 1)
    .attr("fill", colors.yellow);
  svg.append("rect").attr("x", x(greyBands[i][0])).attr("y", topY + 1)
    .attr("width", x(greyBands[i][1]) - x(greyBands[i][0])).attr("height", bottomY - topY - 1)
    .attr("fill", colors.grey);
});

// Dashed lines in panel 1
dashedAges.forEach(a => {
  svg.append("line").attr("x1", xs[0](a)).attr("x2", xs[0](a))
    .attr("y1", topY).attr("y2", bottomY)
    .attr("stroke", "#000").attr("stroke-width", 1).attr("stroke-dasharray", "3,2.5");
});

// Band names
bandNames.forEach((name, j) => {
  const age = bandNameAges[j];
  const i = panelDomains.findIndex(d => age >= d[0] - 5 && age <= d[1] + 5);
  svg.append("text").attr("x", xs[i](age)).attr("y", 83)
    .attr("text-anchor", "middle").style("font-size", "17px").style("font-weight", "bold")
    .text(name);
});

// Series
function drawLine(data, x, y, color, width) {
  svg.append("path").datum(data)
    .attr("d", d3.line().x(d => x(d[0])).y(d => y(d[1])))
    .attr("fill", "none").attr("stroke", color).attr("stroke-width", width)
    .attr("stroke-linejoin", "round");
}

const cyData = [cyP1, cyP2, cyP3, cyP4];
const poData = [poP1, poP2, poP3, poP4];
const pcData = [pcP1, pcP2, pcP3, pcP4];
const c4Data = [c4P1, c4P2, c4P3, c4P4];
const seaData = [seaP1, seaP2, seaP3, seaP4];
const d18Data = [d18P1, d18P2, d18P3, d18P4];

xs.forEach((x, i) => {
  drawLine(cyData[i], x, yCy, colors.orange, 2.6);
  drawLine(poData[i], x, yPo, colors.cyan, 2.6);
  drawLine(pcData[i], x, yPC, colors.blue, 2.6);
  drawLine(c4Data[i], x, yC4, colors.green, 2);
  // small markers with error ticks on the C4 record
  const g = svg.append("g");
  g.selectAll("line").data(c4Data[i]).enter().append("line")
    .attr("x1", d => x(d[0])).attr("x2", d => x(d[0]))
    .attr("y1", d => yC4(d[1]) - 4).attr("y2", d => yC4(d[1]) + 4)
    .attr("stroke", colors.green).attr("stroke-width", 1.5);
  g.selectAll("rect").data(c4Data[i]).enter().append("rect")
    .attr("x", d => x(d[0]) - 1.8).attr("y", d => yC4(d[1]) - 1.8)
    .attr("width", 3.6).attr("height", 3.6).attr("fill", colors.green);
  drawLine(seaData[i], x, ySea, colors.dark, 2);
  drawLine(d18Data[i], x, yD18, colors.red, 1.8);
});

// Dating triangles
svg.selectAll(".tri").data(datingAges).enter().append("path")
  .attr("class", "tri")
  .attr("d", d3.symbol().type(d3.symbolTriangle).size(38))
  .attr("transform", d => `translate(${xs[0](d)},${ySea(-117)})`)
  .attr("fill", colors.red);

// ---- axes ----
function styleAxis(g, color, fontSize) {
  g.selectAll("path, line").attr("stroke", color || "#000").attr("stroke-width", 1.8);
  g.selectAll("text").style("font-size", (fontSize || 18) + "px")
    .style("font-family", '"Liberation Serif", "Times New Roman", serif').attr("fill", "#000");
}

// age axes (top and bottom)
xs.forEach((x, i) => {
  const minors = d3.range(panelDomains[i][0], panelDomains[i][1] + 0.01, 5);
  [["top", topY], ["bottom", bottomY]].forEach(([side, yy]) => {
    const mk = side === "top" ? d3.axisTop : d3.axisBottom;
    const gMin = svg.append("g").attr("transform", `translate(0,${yy})`)
      .call(mk(x).tickValues(minors).tickSize(6).tickSizeOuter(0).tickFormat(""));
    styleAxis(gMin);
    const gMaj = svg.append("g").attr("transform", `translate(0,${yy})`)
      .call(mk(x).tickValues(panelLabels[i]).tickSize(6).tickSizeOuter(0).tickPadding(5).tickFormat(d3.format("d")));
    gMaj.select(".domain").remove();
    styleAxis(gMaj);
  });
});

// vertical axis helper
function vAxis(mk, scale, xPos, majors, minors, fmt, color, sizes, pad) {
  const [majLen, minLen, outer] = sizes || [8, 5, 8];
  const gMaj = svg.append("g").attr("transform", `translate(${xPos},0)`)
    .call(mk(scale).tickValues(majors).tickSize(majLen).tickSizeOuter(outer).tickPadding(pad || 3).tickFormat(fmt));
  styleAxis(gMaj, color);
  if (minors.length) {
    const gMin = svg.append("g").attr("transform", `translate(${xPos},0)`)
      .call(mk(scale).tickValues(minors).tickSize(minLen).tickSizeOuter(0).tickFormat(""));
    gMin.select(".domain").remove();
    styleAxis(gMin, color);
  }
  return gMaj;
}

// left axes
vAxis(d3.axisLeft, yPC, 100, d3.range(0, 61, 10), d3.range(5, 60, 10), d3.format("d"), "#000", [9, 5, 9]);
vAxis(d3.axisLeft, yPo, 72, [0, 10, 20, 30], [5, 15, 25], d3.format("d"), "#000", [9, 5, 9]);
vAxis(d3.axisLeft, ySea, 100, [0, -40, -80, -120], [-20, -60, -100], d => String(d), "#000", [9, 5, 9]);

// right axes: C4 contribution (left labels) and n-C31 d13C (right labels) on one line
const c4AxisX = 1063;
vAxis(d3.axisLeft, yC4, c4AxisX, d3.range(0, 51, 10), [-10, -5, 5, 15, 25, 35, 45], d3.format("d"), "#000", [10, 6, 7], 3);
const gD13 = svg.append("g").attr("transform", `translate(${c4AxisX},0)`)
  .call(d3.axisRight(yD13).tickValues([-34, -32, -30, -28]).tickSize(10).tickPadding(3).tickFormat(d => String(d)));
gD13.select(".domain").remove();
styleAxis(gD13);
const gD13m = svg.append("g").attr("transform", `translate(${c4AxisX},0)`)
  .call(d3.axisRight(yD13).tickValues([-35, -33, -31, -29, -27]).tickSize(6).tickFormat(""));
gD13m.select(".domain").remove();
styleAxis(gD13m);

vAxis(d3.axisRight, yCy, 1052, [0, 10, 20, 30], [5, 15, 25], d3.format("d"), "#000", [9, 5, 9]);
vAxis(d3.axisRight, yD18, 1051, [2.4, 3.2, 4.0], [2.8, 3.6, 4.4], d => d === 4 ? "4" : d3.format(".1f")(d), colors.red, [7, 7, 7]);

// ---- titles ----
function rotTitle(x, y, parts, size) {
  const t = svg.append("text").attr("transform", `translate(${x},${y}) rotate(-90)`)
    .attr("text-anchor", "middle").attr("dominant-baseline", "central")
    .style("font-size", (size || 17) + "px").style("font-weight", "bold");
  parts.forEach(p => {
    const s = t.append("tspan").text(p.t);
    if (p.sub) s.attr("dy", 4).style("font-size", "11px");
    if (p.sup) s.attr("dy", -7).style("font-size", "11px");
    if (p.back) s.attr("dy", p.back);
    if (p.it) s.style("font-style", "italic");
  });
  return t;
}

svg.append("text").attr("x", 535).attr("y", 28).attr("text-anchor", "middle")
  .style("font-size", "17px").style("font-weight", "bold").text("Age (ka BP)");
svg.append("text").attr("x", 535).attr("y", 919).attr("text-anchor", "middle")
  .style("font-size", "17px").style("font-weight", "bold").text("Age (ka BP)");

rotTitle(48, 364, [{ t: "GeoB16602 %Poaceae + %Cyperaceae" }]);
rotTitle(28, 618, [{ t: "GeoB16602 %Poaceae" }]);
rotTitle(19, 817, [{ t: "Reconstructed" }]);
rotTitle(40, 817, [{ t: "sea-level (meters)" }]);

rotTitle(1020, 250, [{ t: "C" }, { t: "4", sub: true }, { t: "-plant contribution (%)", back: -4 }]);
rotTitle(1117, 200, [{ t: "GeoB16602 " }, { t: "n", it: true }, { t: "-C" }, { t: "31", sub: true },
  { t: " δ", back: -4 }, { t: "13", sup: true }, { t: "C (‰, per mil)", back: 7 }]);
rotTitle(1102, 487, [{ t: "GeoB16602 %Cyperaceae" }]);
rotTitle(1093, 777, [{ t: "GeoB16602 Benthic" }]);
rotTitle(1113, 777, [{ t: "δ" }, { t: "18", sup: true }, { t: "O (‰, VPDB)", back: 7 }]);

// panel letters
const panelLetters = ["(e)", "(d)", "(c)", "(b)", "(a)"];
const letterY = [203, 332, 465, 595, 769];
panelLetters.forEach((l, j) => {
  svg.append("text").attr("x", 125).attr("y", letterY[j] + 6).attr("text-anchor", "middle")
    .style("font-size", "17px").style("font-weight", "bold").text(l);
});
</script>
</body>
</html>
